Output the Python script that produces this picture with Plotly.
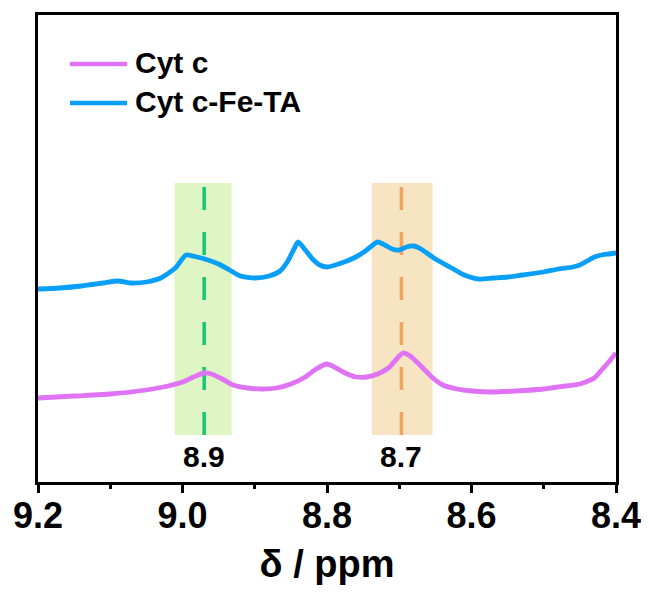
import plotly.graph_objects as go

# ---- data ----
ppm_blue = [9.20, 9.17, 9.14, 9.11, 9.09, 9.07, 9.05, 9.03, 9.01, 8.995, 8.98, 8.965, 8.95,
            8.935, 8.92, 8.90, 8.88, 8.865, 8.855, 8.845, 8.84, 8.83, 8.82, 8.81, 8.80, 8.78,
            8.76, 8.745, 8.73, 8.72, 8.71, 8.70, 8.69, 8.68, 8.67, 8.66, 8.65, 8.63, 8.61,
            8.59, 8.57, 8.55, 8.53, 8.50, 8.48, 8.46, 8.45, 8.44, 8.43, 8.42, 8.41, 8.40]
int_blue = [193, 194, 196, 199, 201, 199, 200, 204, 214, 227, 225, 222, 218,
            212, 206, 204, 206, 211, 220, 234, 240, 232, 223, 217, 215, 219,
            225, 232, 240, 237, 233, 232, 235, 236, 233, 228, 223, 215, 207,
            203, 204, 205, 207, 210, 213, 215, 217, 221, 225, 227, 228, 229]

ppm_pink = [9.20, 9.15, 9.10, 9.05, 9.02, 9.00, 8.985, 8.97, 8.96, 8.945, 8.93, 8.91, 8.89,
            8.87, 8.85, 8.83, 8.815, 8.80, 8.79, 8.775, 8.76, 8.745, 8.73, 8.715, 8.70,
            8.695, 8.685, 8.67, 8.655, 8.64, 8.62, 8.60, 8.57, 8.54, 8.50, 8.47, 8.45,
            8.43, 8.42, 8.41, 8.40]
int_pink = [84, 86, 88, 92, 96, 100, 105, 109, 108, 103, 97, 94, 93,
            94, 98, 105, 113, 118, 115, 109, 105, 105, 108, 114, 126,
            129, 126, 116, 105, 97, 93, 91, 90, 91, 93, 96, 98,
            104, 112, 120, 129]

series_names = ["Cyt c", "Cyt c-Fe-TA"]
series_colors = ["#df72f5", "#079ff7"]

band_ranges = [(9.011, 8.932), (8.738, 8.654)]
band_marks = [8.970, 8.697]
band_labels = ["8.9", "8.7"]
band_fill = ["#dff6c4", "#f7e4c2"]
band_line = ["#14c777", "#f4a25e"]
band_y = (47, 299)

x_ticks = [9.2, 9.0, 8.8, 8.6, 8.4]
x_ticklabels = ["9.2", "9.0", "8.8", "8.6", "8.4"]

FONT = "Arial, Liberation Sans, sans-serif"

fig = go.Figure()

# shaded bands and dashed markers
for (x0, x1), xm, fc, lc in zip(band_ranges, band_marks, band_fill, band_line):
    fig.add_shape(type="rect", x0=x0, x1=x1, y0=band_y[0], y1=band_y[1],
                  xref="x", yref="y", fillcolor=fc, line=dict(width=0), layer="below")
    fig.add_shape(type="line", x0=xm, x1=xm, y0=band_y[0], y1=band_y[1],
                  xref="x", yref="y", line=dict(color=lc, width=3.5, dash="23px,22px"),
                  layer="below")

fig.add_trace(go.Scatter(x=ppm_pink, y=int_pink, mode="lines", name=series_names[0],
                         line=dict(color=series_colors[0], width=4.8, shape="spline",
                                   smoothing=0.6), showlegend=False))
fig.add_trace(go.Scatter(x=ppm_blue, y=int_blue, mode="lines", name=series_names[1],
                         line=dict(color=series_colors[1], width=4.8, shape="spline",
                                   smoothing=0.6), showlegend=False))

# band labels
for xm, lab in zip(band_marks, band_labels):
    fig.add_annotation(x=xm, y=26, xref="x", yref="y", text="<b>%s</b>" % lab,
                       showarrow=False, font=dict(family=FONT, size=30, color="black"),
                       xanchor="center", yanchor="middle")

# manual legend
leg_y = [0.895, 0.8116]
for name, col, ly in zip(series_names, series_colors, leg_y):
    fig.add_shape(type="line", xref="paper", yref="paper", x0=0.0554, x1=0.154,
                  y0=ly, y1=ly, line=dict(color=col, width=4.5))
    fig.add_annotation(xref="paper", yref="paper", x=0.1644, y=ly + 0.004,
                       text="<b>%s</b>" % name, showarrow=False,
                       font=dict(family=FONT, size=30, color="black"),
                       xanchor="left", yanchor="middle")

fig.update_xaxes(range=[9.2, 8.4], tickvals=x_ticks, ticktext=x_ticklabels,
                 ticks="outside", ticklen=8, tickwidth=3, tickcolor="black",
                 ticklabelstandoff=-8,
                 minor=dict(dtick=0.1, ticks="outside", ticklen=4, tickwidth=3,
                            tickcolor="black"),
                 showline=True, linewidth=3, linecolor="black", mirror=True,
                 showgrid=False, zeroline=False,
                 tickfont=dict(family=FONT, size=36, color="black", weight="bold"),
                 title=dict(text="<b>δ / ppm</b>", standoff=16,
                            font=dict(family=FONT, size=38, color="black")))
fig.update_yaxes(range=[0, 467], showticklabels=False, ticks="",
                 showline=True, linewidth=3, linecolor="black", mirror=True,
                 showgrid=False, zeroline=False)

fig.update_layout(width=641, height=586, plot_bgcolor="white", paper_bgcolor="white",
                  margin=dict(l=30, r=33, t=7, b=112, autoexpand=False), showlegend=False)

fig.write_html("out.html")
